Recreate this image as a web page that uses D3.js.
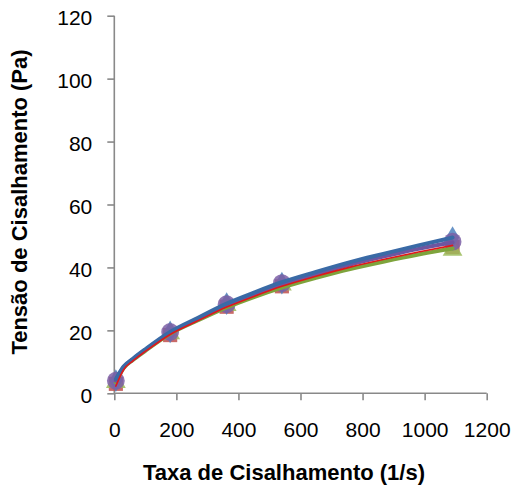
<!DOCTYPE html>
<html><head><meta charset="utf-8">
<script src="https://cdn.jsdelivr.net/npm/d3@7"></script>
<style>body{margin:0;background:#fff}svg{display:block}text{font-family:"Liberation Sans",Arial,sans-serif;fill:#000}</style>
</head><body>
<svg id="c" width="513" height="489"></svg>
<script>
const xTicks = [0,200,400,600,800,1000,1200];
const yTicks = [0,20,40,60,80,100,120];
// smooth measured curves
const curveX = [5,30,60,100,180,270,362,450,540,650,760,870,980,1090];
const blueLine   = [4.5,8.5,11,14,19.5,24,28.5,32,35.3,38.6,41.7,44.4,47,49.5];
const purpleLine = [4,8.3,10.8,13.8,19.2,23.6,28,31.4,34.7,37.9,40.9,43.5,45.9,48];
const greenLine  = [3.5,8,10.6,13.5,18.9,23.2,27.3,30.6,33.6,36.7,39.5,41.9,44.1,46];
const redLine    = [2.3,7.5,10.3,13.3,18.7,23.1,27.4,30.8,34.0,37.2,40.1,42.6,44.9,47];
// measured points (markers)
const markX = [5,180,362,540,1090];
const blueMark   = [4,19.5,28.5,35,49.5];
const redMark    = [3,18.5,27.5,34,46.5];
const greenMark  = [3.5,19,28,34.5,45.5];
const purpleMark = [4,19.5,28.3,35,48.2];

const svg = d3.select("#c");
const x = d3.scaleLinear().domain([0,1200]).range([114.3,486.7]);
const y = d3.scaleLinear().domain([0,120]).range([393.3,15.7]);
const axisCol = "#898989";

const xa = svg.append("g").attr("transform","translate(0,393.3)")
  .call(d3.axisBottom(x).tickValues(xTicks).tickSize(7).tickPadding(0).tickFormat(d3.format("d")));
const ya = svg.append("g").attr("transform","translate(114.3,0)")
  .call(d3.axisLeft(y).tickValues(yTicks).tickSize(7).tickPadding(0).tickFormat(d3.format("d")));
[xa,ya].forEach(g=>{
  g.select(".domain").attr("stroke",axisCol).attr("stroke-width",1.6);
  g.selectAll(".tick line").attr("stroke",axisCol).attr("stroke-width",1.6);
  g.selectAll("text").style("font-size","21px").attr("fill","#000");
});
xa.selectAll(".domain").attr("d",`M${x(0)},0H${x(1200)}`);
ya.selectAll(".domain").attr("d",`M0,${y(0)}V${y(120)}`);
xa.selectAll(".tick text").attr("y",44).attr("dy",0);
ya.selectAll(".tick text").attr("x",-22).attr("dy",0).attr("y",9);

const line = d3.line().x(d=>x(d[0])).y(d=>y(d[1])).curve(d3.curveMonotoneX);
const zip = (xs,ys)=>xs.map((v,i)=>[v,ys[i]]);

// markers
const mk = (vals, type, col, size) => {
  svg.append("g").selectAll("path").data(zip(markX,vals)).join("path")
    .attr("transform",d=>`translate(${x(d[0])},${y(d[1])})`)
    .attr("d", d3.symbol().type(type).size(size)())
    .attr("fill",col).attr("fill-opacity",0.85);
};
mk(redMark, d3.symbolSquare, "#c0504d", 200);
mk(greenMark, d3.symbolTriangle, "#9bbb59", 170);
mk(blueMark, d3.symbolDiamond, "#4f81bd", 150);
mk(purpleMark, d3.symbolCircle, "#7b5fa6", 250);

const ln = (vals,col,w)=>svg.append("path").datum(zip(curveX,vals))
  .attr("d",line).attr("fill","none").attr("stroke",col).attr("stroke-width",w)
  .attr("stroke-linejoin","round").attr("stroke-linecap","round");
ln(greenLine,"#7ea43c",4);
ln(purpleLine,"#6f55a0",4);
ln(blueLine,"#3a6aa6",4);
ln(redLine,"#e0181a",1.6);

svg.append("text").attr("x",284).attr("y",480).attr("text-anchor","middle")
  .style("font-size","22px").style("font-weight","bold").text("Taxa de Cisalhamento (1/s)");
svg.append("text").attr("transform","translate(27,202) rotate(-90)").attr("text-anchor","middle")
  .style("font-size","22px").style("font-weight","bold").text("Tensão de Cisalhamento (Pa)");
</script>
</body></html>
